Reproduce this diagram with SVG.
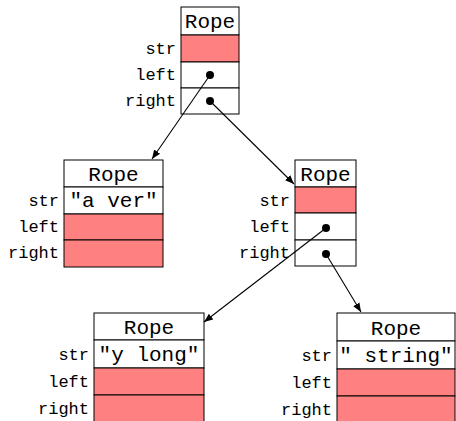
<svg xmlns="http://www.w3.org/2000/svg" width="456" height="421" viewBox="0 0 456 421">
  <style>
    .w{fill:#fff;stroke:#000;stroke-width:1}
    .r{fill:#ff8080;stroke:#000;stroke-width:1}
    .t{font-family:"Liberation Mono","DejaVu Sans Mono",monospace;font-size:21px;text-anchor:middle;fill:#000}
    .l{font-family:"Liberation Mono","DejaVu Sans Mono",monospace;font-size:17px;text-anchor:end;fill:#000}
    .dot{fill:#000}
    .edge{stroke:#000;stroke-width:1.1;fill:none;marker-end:url(#arr)}
  </style>
  <defs>
    <marker id="arr" viewBox="0 0 10 10" refX="10" refY="5" markerWidth="9" markerHeight="9" markerUnits="userSpaceOnUse" orient="auto">
      <path d="M0,1 L10,5 L0,9 Z" fill="#000"/>
    </marker>
  </defs>

  <!-- root rope -->
  <g id="rope-root">
    <rect class="w" x="181" y="7" width="58" height="28"/>
    <rect class="r" x="181" y="35" width="58" height="27"/>
    <rect class="w" x="181" y="62" width="58" height="26"/>
    <rect class="w" x="181" y="88" width="58" height="26"/>
    <text class="t" x="210" y="28">Rope</text>
    <text class="l" x="176" y="54">str</text>
    <text class="l" x="176" y="80">left</text>
    <text class="l" x="176" y="106">right</text>
    <circle class="dot" cx="210" cy="75" r="4"/>
    <circle class="dot" cx="210" cy="101" r="4"/>
  </g>

  <!-- left leaf: "a ver" -->
  <g id="rope-a-ver">
    <rect class="w" x="64" y="160" width="99" height="27"/>
    <rect class="w" x="64" y="187" width="99" height="27"/>
    <rect class="r" x="64" y="214" width="99" height="26"/>
    <rect class="r" x="64" y="240" width="99" height="27"/>
    <text class="t" x="113.5" y="181">Rope</text>
    <text class="t" x="113.5" y="207">"a ver"</text>
    <text class="l" x="59" y="206">str</text>
    <text class="l" x="59" y="232">left</text>
    <text class="l" x="59" y="258">right</text>
  </g>

  <!-- right inner rope -->
  <g id="rope-inner">
    <rect class="w" x="295" y="160" width="61" height="27"/>
    <rect class="r" x="295" y="187" width="61" height="26"/>
    <rect class="w" x="295" y="213" width="61" height="27"/>
    <rect class="w" x="295" y="240" width="61" height="26"/>
    <text class="t" x="325.5" y="181">Rope</text>
    <text class="l" x="290" y="206">str</text>
    <text class="l" x="290" y="232">left</text>
    <text class="l" x="290" y="258">right</text>
    <circle class="dot" cx="326" cy="228" r="4"/>
    <circle class="dot" cx="326" cy="254" r="4"/>
  </g>

  <!-- leaf: "y long" -->
  <g id="rope-y-long">
    <rect class="w" x="94" y="313" width="110" height="27"/>
    <rect class="w" x="94" y="340" width="110" height="28"/>
    <rect class="r" x="94" y="368" width="110" height="27"/>
    <rect class="r" x="94" y="395" width="110" height="27"/>
    <text class="t" x="149" y="334">Rope</text>
    <text class="t" x="149" y="361">"y long"</text>
    <text class="l" x="89" y="360">str</text>
    <text class="l" x="89" y="387">left</text>
    <text class="l" x="89" y="414">right</text>
  </g>

  <!-- leaf: " string" -->
  <g id="rope-string">
    <rect class="w" x="337" y="313" width="118" height="28"/>
    <rect class="w" x="337" y="341" width="118" height="28"/>
    <rect class="r" x="337" y="369" width="118" height="27"/>
    <rect class="r" x="337" y="396" width="118" height="27"/>
    <text class="t" x="396" y="335">Rope</text>
    <text class="t" x="396" y="362" xml:space="preserve">" string"</text>
    <text class="l" x="332" y="361">str</text>
    <text class="l" x="332" y="388">left</text>
    <text class="l" x="332" y="415">right</text>
  </g>

  <!-- child pointers -->
  <g id="edges">
    <line class="edge" x1="210" y1="75" x2="152" y2="159"/>
    <line class="edge" x1="210" y1="101" x2="294" y2="184"/>
    <line class="edge" x1="326" y1="228" x2="204" y2="322"/>
    <line class="edge" x1="326" y1="254" x2="361" y2="312"/>
  </g>
</svg>
